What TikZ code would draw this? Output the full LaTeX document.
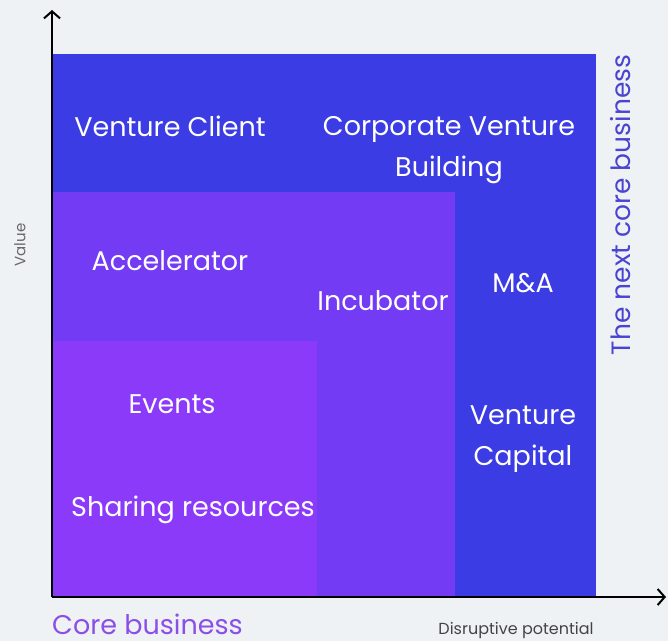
\documentclass[tikz,border=0pt]{standalone}
\usepackage{fontspec}
\setmainfont{Poppins}
\usetikzlibrary{arrows.meta}
\definecolor{bg}{HTML}{EEF2F5}
\definecolor{outerblue}{HTML}{3C3CE4}
\definecolor{midviolet}{HTML}{733BF4}
\definecolor{innerviolet}{HTML}{8C3AF9}
\definecolor{sidelabel}{HTML}{4B44D0}
\definecolor{corelabel}{HTML}{8B4FE8}
\definecolor{axislabel}{HTML}{444444}
\tikzset{
  region/.style={draw=none},
  boxtext/.style={text=white, font=\fontsize{27}{40.5}\selectfont, align=center, inner sep=0pt},
  axisline/.style={line width=2.2pt, black, -{Straight Barb[length=7pt,width=16pt,line width=2pt]}},
}
\begin{document}
\begin{tikzpicture}[x=1pt,y=-1pt]
\fill[bg] (0,0) rectangle (668,641);
\useasboundingbox (0,0) rectangle (668,641);
\fill[outerblue] (52,54) rectangle (596,597);
\fill[midviolet] (52,192) rectangle (455,597);
\fill[innerviolet] (52,341) rectangle (317,597);
\coordinate (origin) at (52,597);
\coordinate (ytip) at (52,10);
\coordinate (xtip) at (666,597);
\draw[axisline] (origin) -- (ytip);
\draw[axisline] (origin) -- (xtip);
\node[boxtext] (vclient) at (170,126) {Venture Client};
\node[boxtext] (cvb) at (449,150) {Corporate Venture\\Building};
\node[boxtext] (accel) at (170,261) {Accelerator};
\node[boxtext] (incub) at (383,301) {Incubator};
\node[boxtext] (ma) at (523,283) {M\&A};
\node[boxtext] (events) at (172,404) {Events};
\node[boxtext] (sharing) at (193,510) {Sharing resources};
\node[boxtext] (vc) at (523,439) {Venture\\Capital};
\node[text=sidelabel, font=\fontsize{26.5}{30}\selectfont, rotate=90, inner sep=0pt] (next) at (621,205) {The next core business};
\node[text=corelabel, font=\fontsize{27}{30}\selectfont, inner sep=0pt, anchor=base west] (core) at (52,634) {Core business};
\node[text=axislabel, font=\fontsize{16}{18}\selectfont, inner sep=0pt] (disr) at (516,630) {Disruptive potential};
\node[text=axislabel!80, font=\fontsize{15}{17}\selectfont, rotate=90, inner sep=0pt] (value) at (20,245) {Value};
\end{tikzpicture}
\end{document}
